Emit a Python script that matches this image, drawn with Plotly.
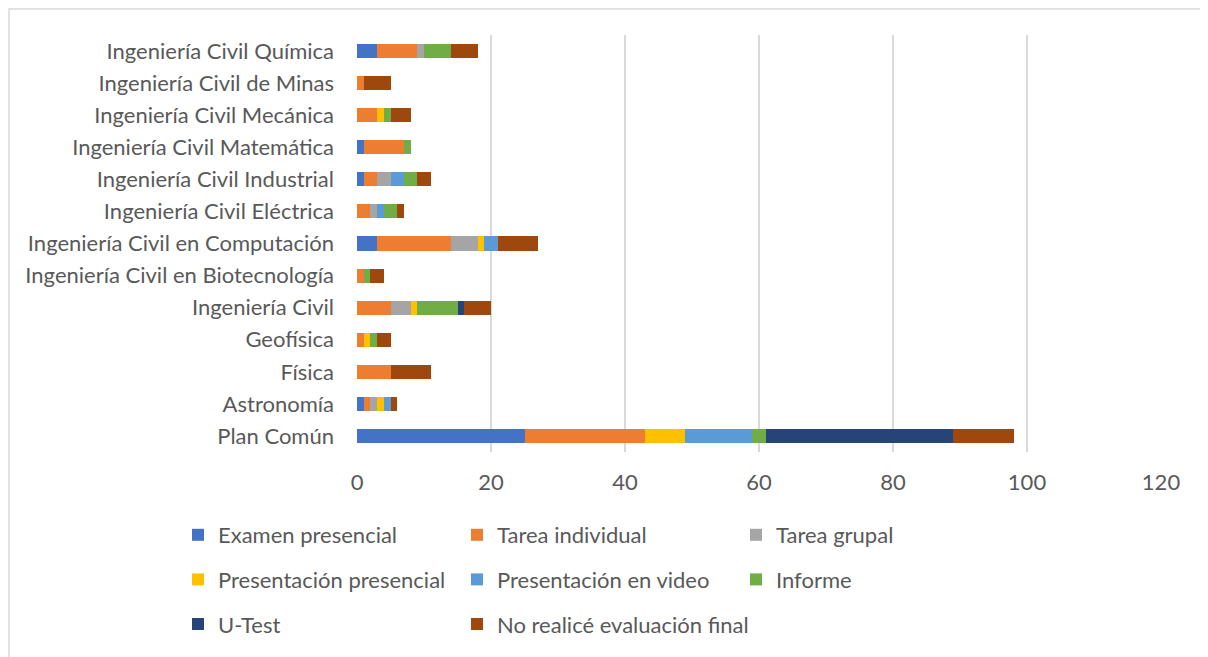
import plotly.graph_objects as go

carreras = [
    "Plan Común", "Astronomía", "Física", "Geofísica", "Ingeniería Civil",
    "Ingeniería Civil en Biotecnología", "Ingeniería Civil en Computación",
    "Ingeniería Civil Eléctrica", "Ingeniería Civil Industrial",
    "Ingeniería Civil Matemática", "Ingeniería Civil Mecánica",
    "Ingeniería Civil de Minas", "Ingeniería Civil Química",
]

examen_presencial = [25, 1, 0, 0, 0, 0, 3, 0, 1, 1, 0, 0, 3]
tarea_individual = [18, 1, 5, 1, 5, 1, 11, 2, 2, 6, 3, 1, 6]
tarea_grupal = [0, 1, 0, 0, 3, 0, 4, 1, 2, 0, 0, 0, 1]
presentacion_presencial = [6, 1, 0, 1, 1, 0, 1, 0, 0, 0, 1, 0, 0]
presentacion_video = [10, 1, 0, 0, 0, 0, 2, 1, 2, 0, 0, 0, 0]
informe = [2, 0, 0, 1, 6, 1, 0, 2, 2, 1, 1, 0, 4]
u_test = [28, 0, 0, 0, 1, 0, 0, 0, 0, 0, 0, 0, 0]
no_realice = [9, 1, 6, 2, 4, 2, 6, 1, 2, 0, 3, 4, 4]

# legend columns: first column, second, third
series = [
    ("Examen presencial", examen_presencial, "#4472C4", "legend"),
    ("Tarea individual", tarea_individual, "#ED7D31", "legend2"),
    ("Tarea grupal", tarea_grupal, "#A5A5A5", "legend3"),
    ("Presentación presencial", presentacion_presencial, "#FFC000", "legend"),
    ("Presentación en video", presentacion_video, "#5B9BD5", "legend2"),
    ("Informe", informe, "#70AD47", "legend3"),
    ("U-Test", u_test, "#264478", "legend"),
    ("No realicé evaluación final", no_realice, "#9E480E", "legend2"),
]

W, H = 1200, 649  # page adds an 8px body margin

fig = go.Figure()
for nombre, valores, color, leg in series:
    fig.add_trace(go.Bar(
        y=carreras, x=valores, name=nombre, orientation="h",
        marker=dict(color=color, line=dict(width=0)), legend=leg,
        legendgroup=nombre,
    ))

font_txt = dict(family="Lato", size=22, color="#595959")
leg_common = dict(
    orientation="v", xref="container", yref="container", xanchor="left",
    yanchor="top", y=1 - 506 / H, font=font_txt, itemwidth=30,
    bgcolor="rgba(0,0,0,0)", traceorder="grouped", tracegroupgap=13,
)

fig.update_layout(
    width=W, height=H,
    margin=dict(l=349, r=47, t=27, b=205, autoexpand=False),
    barmode="stack", bargap=0.56,
    plot_bgcolor="white", paper_bgcolor="white",
    font=font_txt,
    xaxis=dict(
        range=[0, 120], dtick=20, showgrid=True, gridcolor="#D9D9D9",
        gridwidth=1.5, zeroline=False, showline=False, ticks="",
        ticklabelstandoff=15, tickfont=font_txt, automargin=False,
    ),
    yaxis=dict(
        showgrid=False, zeroline=False, showline=False, ticks="",
        ticklabelstandoff=22, tickfont=font_txt, automargin=False,
    ),
    legend=dict(x=170 / W, **leg_common),
    legend2=dict(x=449 / W, **leg_common),
    legend3=dict(x=728 / W, **leg_common),
    shapes=[dict(
        type="rect", xref="paper", yref="paper",
        x0=-348 / 804, x1=1 + 60 / 804,
        y0=-220 / 417, y1=1 + 26 / 417,
        line=dict(color="#D9D9D9", width=1.5), fillcolor="rgba(0,0,0,0)",
    )],
)

fig.write_html("out.html")
